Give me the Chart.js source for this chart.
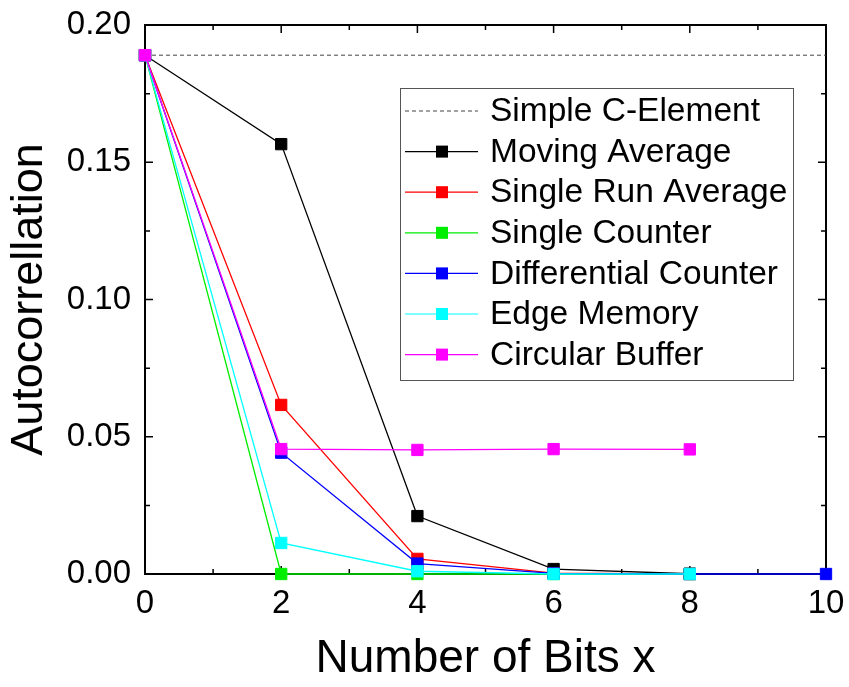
<!DOCTYPE html>
<html>
<head>
<meta charset="utf-8">
<script src="https://cdn.jsdelivr.net/npm/chart.js@4"></script>
<style>
    html, body { margin: 0; padding: 0; background: #fff; }
    #wrap { width: 849px; height: 687px; }
</style>
</head>
<body>
<div id="wrap"><canvas id="autoChart" width="849" height="687"></canvas></div>
<script>
// values (x = number of bits)
const bitsX = [0, 2, 4, 6, 8, 10];
const simpleCElement   = [0.189, null, null, null, null, 0.189];
const movingAverage    = [0.189, 0.1566, 0.0211, 0.0018, 0.0001, null];
const singleRunAverage = [0.189, 0.0616, 0.0055, 0.0003, 0.0, null];
const singleCounter    = [0.189, 0.0, 0.0, 0.0, 0.0, null];
const diffCounter      = [0.189, 0.0442, 0.0038, 0.0002, 0.0, 0.0];
const edgeMemory       = [0.189, 0.0113, 0.0010, 0.0, 0.0, null];
const circularBuffer   = [0.189, 0.0455, 0.0452, 0.0455, 0.0454, null];

const xTicks = [0, 2, 4, 6, 8, 10];
const yTicks = [0, 0.05, 0.10, 0.15, 0.20];

const FONT = "'Liberation Sans', Arial, sans-serif";

(function () {
    const canvas = document.getElementById('autoChart');
    const ctx = canvas.getContext('2d');

    function toPoints(arr) {
        const pts = [];
        arr.forEach((v, i) => {
            if (v !== null) pts.push({ x: bitsX[i], y: v });
        });
        return pts;
    }

    function series(label, arr, color, order) {
        return {
            label: label,
            data: toPoints(arr),
            borderColor: color,
            backgroundColor: color,
            borderWidth: 1.3,
            pointStyle: 'rect',
            pointRadius: 8,
            pointBorderWidth: 1,
            pointBackgroundColor: color,
            pointBorderColor: color,
            tension: 0,
            clip: false,
            order: order
        };
    }

    const datasets = [
        {
            label: 'Simple C-Element',
            data: toPoints(simpleCElement),
            borderColor: '#444',
            borderWidth: 1,
            borderDash: [4, 3],
            pointRadius: 0,
            spanGaps: true,
            order: 10
        },
        series('Moving Average', movingAverage, '#000000', 6),
        series('Single Run Average', singleRunAverage, '#ff0000', 5),
        series('Single Counter', singleCounter, '#00ee00', 4),
        series('Differential Counter', diffCounter, '#0000ff', 3),
        series('Edge Memory', edgeMemory, '#00ffff', 2),
        series('Circular Buffer', circularBuffer, '#ff00ff', 1)
    ];

    // box round the plot with inward ticks on all four sides
    const framePlugin = {
        id: 'frame',
        beforeDatasetsDraw(chart) {
            const a = chart.chartArea;
            const xs = chart.scales.x, ys = chart.scales.y;
            const c = chart.ctx;
            c.save();
            c.strokeStyle = '#000';
            c.lineWidth = 2;
            c.strokeRect(a.left, a.top, a.right - a.left, a.bottom - a.top);
            c.lineWidth = 1.5;
            c.beginPath();
            for (let v = 1; v < 10; v++) {
                const px = xs.getPixelForValue(v);
                const len = (v % 2 === 0) ? 8 : 5;
                c.moveTo(px, a.bottom); c.lineTo(px, a.bottom - len);
                c.moveTo(px, a.top); c.lineTo(px, a.top + len);
            }
            for (let k = 1; k < 8; k++) {
                const v = k * 0.025;
                const py = ys.getPixelForValue(v);
                const len = (k % 2 === 0) ? 8 : 5;
                c.moveTo(a.left, py); c.lineTo(a.left + len, py);
                c.moveTo(a.right, py); c.lineTo(a.right - len, py);
            }
            c.stroke();
            c.restore();
        }
    };

    // legend box inside the plot area
    const legendPlugin = {
        id: 'boxLegend',
        afterDraw(chart) {
            const c = chart.ctx;
            const box = { x: 400, y: 88, w: 393, h: 292 };
            c.save();
            c.fillStyle = '#fff';
            c.fillRect(box.x, box.y, box.w, box.h);
            c.strokeStyle = '#555';
            c.lineWidth = 1;
            c.strokeRect(box.x + 0.5, box.y + 0.5, box.w, box.h);
            c.font = '33.5px ' + FONT;
            c.textBaseline = 'middle';
            c.textAlign = 'left';
            chart.data.datasets.forEach((ds, i) => {
                const y = 111 + i * 40.6;
                c.strokeStyle = ds.borderColor;
                c.lineWidth = 1.2;
                c.setLineDash(ds.borderDash || []);
                c.beginPath();
                c.moveTo(405, y); c.lineTo(478, y);
                c.stroke();
                c.setLineDash([]);
                if (ds.pointRadius > 0) {
                    c.fillStyle = ds.borderColor;
                    c.fillRect(436, y - 6, 12, 12);
                }
                c.fillStyle = '#000';
                c.fillText(ds.label, 490, y + 1);
            });
            c.restore();
        }
    };

    new Chart(ctx, {
        type: 'line',
        data: { datasets: datasets },
        options: {
            responsive: false,
            animation: false,
            layout: { padding: { top: 25, right: 23, left: 0, bottom: 0 } },
            plugins: {
                legend: { display: false },
                tooltip: { enabled: false }
            },
            scales: {
                x: {
                    type: 'linear',
                    min: 0,
                    max: 10,
                    afterBuildTicks(s) { s.ticks = xTicks.map(v => ({ value: v })); },
                    afterFit(s) { s.height = 113; s.paddingLeft = 0; s.paddingRight = 0; },
                    ticks: {
                        color: '#000',
                        font: { size: 33, family: FONT },
                        padding: 10,
                        maxRotation: 0
                    },
                    grid: { display: false, drawTicks: false },
                    border: { display: false },
                    title: {
                        display: true,
                        text: 'Number of Bits x',
                        color: '#000',
                        font: { size: 46, family: FONT },
                        padding: { top: 0, bottom: 0 }
                    }
                },
                y: {
                    type: 'linear',
                    min: 0,
                    max: 0.2,
                    afterBuildTicks(s) { s.ticks = yTicks.map(v => ({ value: v })); },
                    afterFit(s) { s.width = 145; s.paddingTop = 0; s.paddingBottom = 0; },
                    ticks: {
                        color: '#000',
                        font: { size: 33, family: FONT },
                        padding: 14,
                        callback: v => Number(v).toFixed(2)
                    },
                    grid: { display: false, drawTicks: false },
                    border: { display: false },
                    title: {
                        display: true,
                        text: 'Autocorrellation',
                        color: '#000',
                        font: { size: 45, family: FONT },
                        padding: { top: 3, bottom: 0 }
                    }
                }
            }
        },
        plugins: [framePlugin, legendPlugin]
    });
})();
</script>
</body>
</html>
